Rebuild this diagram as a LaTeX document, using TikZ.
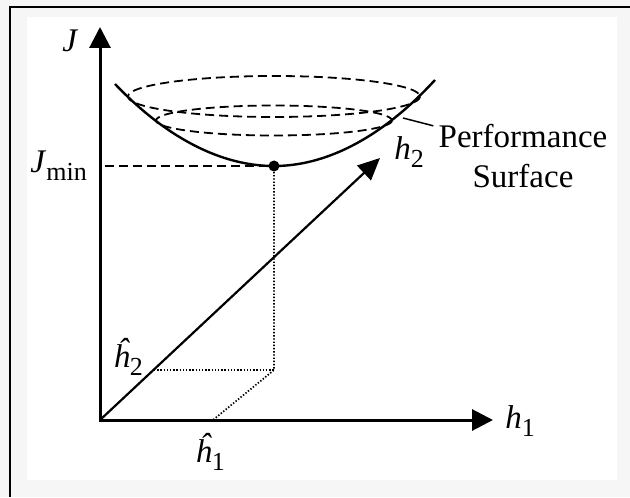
\documentclass[tikz,border=0pt]{standalone}
\usepackage{fontspec}
\setmainfont{Liberation Serif}
\usepackage{tikz}
\usetikzlibrary{arrows.meta}
\definecolor{paper}{HTML}{F6F6F6}
\tikzset{
  axis/.style={line width=1.5pt,{Triangle[length=10.5pt,width=10.5pt]}-{Triangle[length=10.5pt,width=10.5pt]}},
  vec/.style={line width=1.1pt,-{Triangle[length=11pt,width=10pt]}},
  surf/.style={line width=1.2pt},
  lvl/.style={line width=0.9pt,dash pattern=on 4.5pt off 2.5pt},
  proj/.style={line width=0.85pt,dash pattern=on 0.7pt off 0.9pt},
  lbl/.style={inner sep=0pt,font=\fontsize{16.5}{20}\selectfont},
}
\newcommand{\lsub}[2]{#1\raisebox{-4pt}{\fontsize{13}{13}\selectfont #2}}

\begin{document}
\begin{tikzpicture}[x=0.5pt,y=-0.5pt]
  \useasboundingbox (0,0) rectangle (630,497);
  % page and frame
  \fill[paper] (0,0) rectangle (630,497);
  \fill[white] (27,17) rectangle (617,480);
  \draw[line width=1.2pt] (10,497) -- (10,7) -- (630,7);
  % axes
  \coordinate (o) at (100,420);
  \coordinate (jtip) at (100,27);
  \coordinate (h1tip) at (493,420);
  \coordinate (h2tip) at (380,158);
  \draw[axis] (jtip) -- (o) -- (h1tip);
  \draw[vec] (o) -- (h2tip);
  % performance surface
  \draw[lvl] (274,96.5) ellipse [x radius=146, y radius=20.5];
  \draw[lvl] (274,120.5) ellipse [x radius=118, y radius=15];
  \draw[surf] (115,84) parabola bend (274,166) (435,80);
  \node[circle,fill,inner sep=0pt,minimum size=5.5pt] (dot) at (274,166) {};
  \draw[lvl] (dot) -- (dot -| o);
  % projection onto the weight plane
  \coordinate (hh1) at (213,420);
  \coordinate (hh2) at (154,370);
  \coordinate (box) at (dot |- hh2);
  \draw[proj] (dot) -- (box) -- (hh1);
  \draw[proj] (hh2) -- (box);
  % labels
  \node[lbl,anchor=base west] (jlab)    at (62,52)   {\textit{J}};
  \node[lbl,anchor=base west] (jminlab) at (30,172)  {\lsub{\textit{J}}{min}};
  \node[lbl,anchor=base west] (h1lab)   at (505,428) {\lsub{\textit{h}}{1}};
  \node[lbl,anchor=base west] (h2lab)   at (394,160) {\lsub{\textit{h}}{2}};
  \node[lbl,anchor=base west] (hh1lab)  at (195,462) {\lsub{\textit{ĥ}}{1}};
  \node[lbl,anchor=base west] (hh2lab)  at (113,367) {\lsub{\textit{ĥ}}{2}};
  \node[lbl,align=center] (perf) at (523,156) {Performance\\Surface};
  \coordinate (lead) at (403,118);
  \draw[line width=0.75pt] (lead) -- ([shift={(-5,2)}]perf.north west);
\end{tikzpicture}
\end{document}
